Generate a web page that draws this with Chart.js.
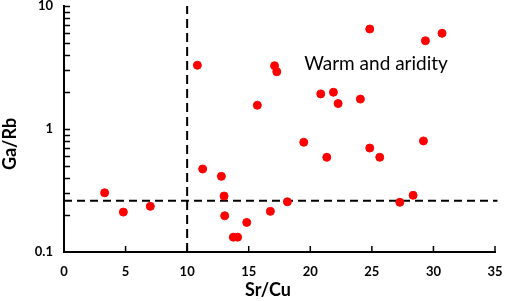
<!DOCTYPE html>
<html><head><meta charset="utf-8">
<script src="https://cdn.jsdelivr.net/npm/chart.js@4"></script>
<style>html,body{margin:0;padding:0;background:#fff}canvas{display:block}</style>
</head><body>
<canvas id="c" width="505" height="301"></canvas>
<script>
const srCu = [10.83, 15.7, 24.83, 29.35, 30.7, 17.1, 17.28, 20.85, 21.88, 22.26, 24.07, 19.47, 24.83, 29.19, 21.34, 25.64, 16.76, 18.14, 27.27, 28.35, 3.3, 4.82, 7.01, 11.26, 12.78, 13.0, 13.05, 14.84, 13.75, 14.1];
const gaRb = [3.3, 1.56, 6.5, 5.22, 6.0, 3.27, 2.92, 1.93, 1.99, 1.61, 1.75, 0.78, 0.70, 0.80, 0.589, 0.589, 0.214, 0.256, 0.2535, 0.289, 0.303, 0.211, 0.235, 0.473, 0.412, 0.285, 0.197, 0.174, 0.132, 0.132];
const xTicks = [0, 5, 10, 15, 20, 25, 30, 35];
const yTicks = [0.1, 1, 10];
const srCuThreshold = 10;
const gaRbThreshold = 0.261;
const xTitle = 'Sr/Cu';
const yTitle = 'Ga/Rb';
const zoneLabel = 'Warm and aridity';
const zoneLabelAt = {x: 19.5, y: 3.4};

const points = srCu.map((x, i) => ({x, y: gaRb[i]}));
const FONT = 'Lato, "Open Sans", sans-serif';

const decor = {
  id: 'decor',
  afterDraw(chart) {
    const {ctx, scales: {x, y}, chartArea: a} = chart;
    ctx.save();
    ctx.strokeStyle = '#000';
    ctx.lineWidth = 1.5;
    ctx.beginPath();
    xTicks.forEach(v => { if (v > 0) { const px = x.getPixelForValue(v); ctx.moveTo(px, a.bottom); ctx.lineTo(px, a.bottom - 6); } });
    for (let d = 0.1; d < 10; d *= 10) {
      for (let m = 1; m <= 10; m++) {
        const v = d * m;
        if (v <= 0.1 + 1e-9) continue;
        const py = Math.round(y.getPixelForValue(v)) + 0.5;
        ctx.moveTo(a.left, py); ctx.lineTo(a.left + 6, py);
      }
    }
    ctx.stroke();
    // zone label
    ctx.fillStyle = '#000';
    ctx.font = '19px ' + FONT;
    ctx.textAlign = 'left';
    ctx.textBaseline = 'middle';
    ctx.fillText(zoneLabel, x.getPixelForValue(zoneLabelAt.x), y.getPixelForValue(zoneLabelAt.y));
    // axis titles
    ctx.font = 'bold 18px ' + FONT;
    ctx.textAlign = 'center';
    ctx.textBaseline = 'alphabetic';
    ctx.fillText(xTitle, 268, 296);
    ctx.translate(16, 144);
    ctx.rotate(-Math.PI / 2);
    ctx.fillText(yTitle, 0, 0);
    ctx.restore();
  }
};

new Chart(document.getElementById('c'), {
  type: 'scatter',
  data: {
    datasets: [
      {data: points, backgroundColor: '#ff0000', borderColor: '#ff0000', pointRadius: 4, pointHoverRadius: 4, order: 0},
      {type: 'line', data: [{x: srCuThreshold, y: 0.1}, {x: srCuThreshold, y: 10}], borderColor: '#000', borderWidth: 2, borderDash: [9, 5], pointRadius: 0, fill: false, order: 1},
      {type: 'line', data: [{x: 0, y: gaRbThreshold}, {x: 35.2, y: gaRbThreshold}], borderColor: '#000', borderWidth: 2, borderDash: [8, 5], pointRadius: 0, fill: false, order: 1}
    ]
  },
  options: {
    responsive: false,
    animation: false,
    clip: false,
    layout: {padding: {top: 6, right: 10, left: 0, bottom: 0}},
    plugins: {legend: {display: false}, tooltip: {enabled: false}},
    scales: {
      x: {
        type: 'linear', min: 0, max: 35,
        afterBuildTicks: s => { s.ticks = xTicks.map(v => ({value: v})); },
        afterFit: s => { s.height = 49; s.paddingLeft = 0; s.paddingRight = 0; },
        grid: {display: false, drawTicks: false},
        border: {display: true, color: '#000', width: 2},
        ticks: {color: '#000', font: {family: FONT, size: 13, weight: 'bold'}, padding: 12, maxRotation: 0}
      },
      y: {
        type: 'logarithmic', min: 0.1, max: 10,
        afterBuildTicks: s => { s.ticks = yTicks.map(v => ({value: v})); },
        afterFit: s => { s.width = 64; s.paddingTop = 0; s.paddingBottom = 0; },
        grid: {display: false, drawTicks: false},
        border: {display: true, color: '#000', width: 2},
        ticks: {color: '#000', font: {family: FONT, size: 13, weight: 'bold'}, padding: 11, callback: v => String(v)}
      }
    }
  },
  plugins: [decor]
});
</script>
</body></html>
